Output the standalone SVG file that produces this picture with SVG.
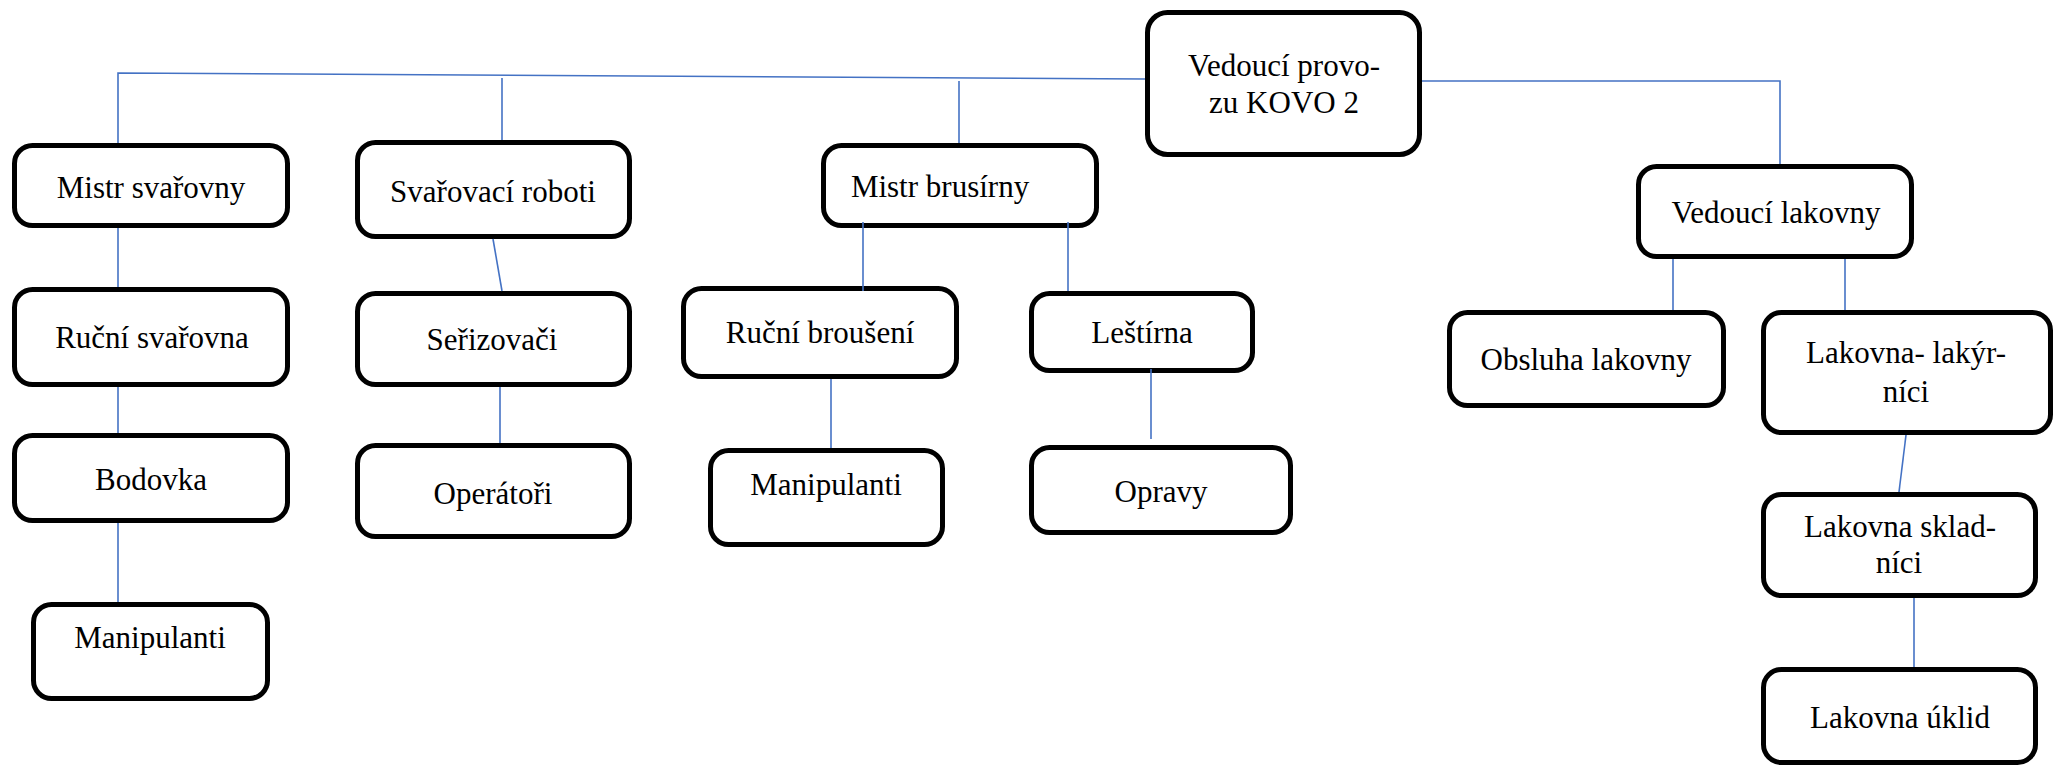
<svg xmlns="http://www.w3.org/2000/svg" width="2060" height="767" viewBox="0 0 2060 767">
<style>
.box{fill:#fff;stroke:#000;stroke-width:5}
text{font-family:'Liberation Serif',serif;font-size:31px;fill:#000;text-anchor:middle}
.c{fill:none;stroke:#4472C4;stroke-width:1.6}
</style>
<rect width="2060" height="767" fill="#fff"/>
<g id="n-kovo"><rect class="box" x="1147.5" y="12.5" width="272" height="142" rx="20"/><text font-family="Liberation Serif" x="1284" y="76">Vedoucí provo-</text><text font-family="Liberation Serif" x="1284" y="113">zu KOVO 2</text></g>
<g id="n-mistr-svarovny"><rect class="box" x="14.5" y="145.5" width="273" height="80" rx="18"/><text font-family="Liberation Serif" x="151" y="198">Mistr svařovny</text></g>
<g id="n-svarovaci-roboti"><rect class="box" x="357.5" y="142.5" width="272" height="94" rx="18"/><text font-family="Liberation Serif" x="493" y="202">Svařovací roboti</text></g>
<g id="n-rucni-svarovna"><rect class="box" x="14.5" y="289.5" width="273" height="95" rx="18"/><text font-family="Liberation Serif" x="152" y="348">Ruční svařovna</text></g>
<g id="n-serizovaci"><rect class="box" x="357.5" y="293.5" width="272" height="91" rx="18"/><text font-family="Liberation Serif" x="492" y="350">Seřizovači</text></g>
<g id="n-bodovka"><rect class="box" x="14.5" y="435.5" width="273" height="85" rx="18"/><text font-family="Liberation Serif" x="151" y="490">Bodovka</text></g>
<g id="n-manipulanti1"><rect class="box" x="33.5" y="604.5" width="234" height="94" rx="18"/><text font-family="Liberation Serif" x="150" y="648">Manipulanti</text></g>
<g id="n-operatori"><rect class="box" x="357.5" y="445.5" width="272" height="91" rx="18"/><text font-family="Liberation Serif" x="493" y="504">Operátoři</text></g>
<g id="n-mistr-brusirny"><rect class="box" x="823.5" y="145.5" width="273" height="80" rx="18"/><text font-family="Liberation Serif" x="940" y="197">Mistr brusírny</text></g>
<g id="n-rucni-brouseni"><rect class="box" x="683.5" y="288.5" width="273" height="88" rx="18"/><text font-family="Liberation Serif" x="820" y="343">Ruční broušení</text></g>
<g id="n-lestirna"><rect class="box" x="1031.5" y="293.5" width="221" height="77" rx="18"/><text font-family="Liberation Serif" x="1142" y="343">Leštírna</text></g>
<g id="n-manipulanti2"><rect class="box" x="710.5" y="450.5" width="232" height="94" rx="18"/><text font-family="Liberation Serif" x="826" y="495">Manipulanti</text></g>
<g id="n-opravy"><rect class="box" x="1031.5" y="447.5" width="259" height="85" rx="18"/><text font-family="Liberation Serif" x="1161" y="502">Opravy</text></g>
<g id="n-vedouci-lakovny"><rect class="box" x="1638.5" y="166.5" width="273" height="90" rx="18"/><text font-family="Liberation Serif" x="1776" y="223">Vedoucí lakovny</text></g>
<g id="n-obsluha-lakovny"><rect class="box" x="1449.5" y="312.5" width="274" height="93" rx="18"/><text font-family="Liberation Serif" x="1586" y="370">Obsluha lakovny</text></g>
<g id="n-lakovna-lakyrnici"><rect class="box" x="1763.5" y="312.5" width="287" height="120" rx="18"/><text font-family="Liberation Serif" x="1906" y="363">Lakovna- lakýr-</text><text font-family="Liberation Serif" x="1906" y="402">níci</text></g>
<g id="n-lakovna-skladnici"><rect class="box" x="1763.5" y="494.5" width="272" height="101" rx="18"/><text font-family="Liberation Serif" x="1900" y="537">Lakovna sklad-</text><text font-family="Liberation Serif" x="1899" y="573">níci</text></g>
<g id="n-lakovna-uklid"><rect class="box" x="1763.5" y="669.5" width="272" height="93" rx="18"/><text font-family="Liberation Serif" x="1900" y="728">Lakovna úklid</text></g>
<g id="connectors">
<polyline class="c" points="118,143 118,73 1145,79"/>
<line class="c" x1="502" y1="78" x2="502" y2="140"/>
<line class="c" x1="959" y1="81" x2="959" y2="143"/>
<polyline class="c" points="1422,81 1780,81 1780,164"/>
<line class="c" x1="118" y1="228" x2="118" y2="287"/>
<line class="c" x1="118" y1="387" x2="118" y2="433"/>
<line class="c" x1="118" y1="523" x2="118" y2="602"/>
<line class="c" x1="493" y1="239" x2="502" y2="291"/>
<line class="c" x1="500" y1="387" x2="500" y2="443"/>
<line class="c" x1="863" y1="222" x2="863" y2="291"/>
<line class="c" x1="1068" y1="222" x2="1068" y2="291"/>
<line class="c" x1="831" y1="379" x2="831" y2="448"/>
<line class="c" x1="1151" y1="369" x2="1151" y2="439"/>
<line class="c" x1="1673" y1="259" x2="1673" y2="310"/>
<line class="c" x1="1845" y1="259" x2="1845" y2="310"/>
<line class="c" x1="1906" y1="435" x2="1899" y2="492"/>
<line class="c" x1="1914" y1="598" x2="1914" y2="667"/>
</g>
</svg>
